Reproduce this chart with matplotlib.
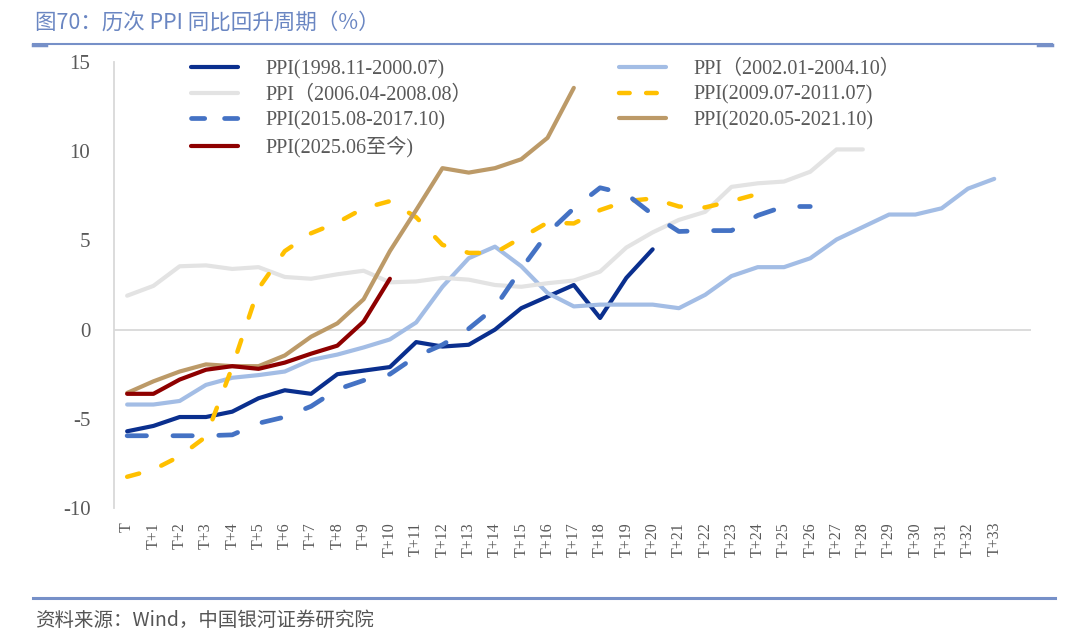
import numpy as np
import matplotlib.pyplot as plt
from matplotlib.lines import Line2D

plt.rcParams['axes.unicode_minus'] = False

# x categories (35 slots, last one has no label)
x_labels = ['T'] + [f'T+{i}' for i in range(1, 34)]

# PPI yoy (%) for each upturn cycle
ppi_1998 = [-5.7, -5.4, -4.9, -4.9, -4.6, -3.85, -3.4, -3.6, -2.5, -2.3, -2.1,
            -0.7, -0.95, -0.85, 0.0, 1.2, 1.85, 2.5, 0.65, 2.9, 4.5]
ppi_2002 = [-4.2, -4.2, -4.0, -3.1, -2.7, -2.55, -2.35, -1.7, -1.4, -1.0, -0.55,
            0.4, 2.4, 4.0, 4.65, 3.55, 2.05, 1.3, 1.4, 1.4, 1.4, 1.2, 1.95, 3.0,
            3.5, 3.5, 4.0, 5.05, 5.75, 6.45, 6.45, 6.8, 7.9, 8.45]
ppi_2006 = [1.9, 2.45, 3.55, 3.6, 3.4, 3.5, 2.95, 2.85, 3.1, 3.3, 2.65, 2.7, 2.9,
            2.8, 2.5, 2.4, 2.6, 2.75, 3.25, 4.6, 5.45, 6.15, 6.6, 8.0, 8.2, 8.3,
            8.85, 10.1, 10.1]
ppi_2009 = [-8.25, -7.85, -7.1, -6.0, -2.1, 2.3, 4.4, 5.4, 6.0, 6.8, 7.2, 6.3,
            4.75, 4.3, 4.3, 5.15, 6.0, 5.95, 6.7, 7.2, 7.35, 6.9, 6.85, 7.2, 7.6]
ppi_2015 = [-5.95, -5.95, -5.95, -5.95, -5.9, -5.25, -4.9, -4.3, -3.35, -2.85,
            -2.5, -1.5, -0.85, 0.05, 1.25, 3.4, 5.4, 6.8, 7.95, 7.6, 6.45, 5.5,
            5.55, 5.55, 6.4, 6.9, 6.9]
ppi_2020 = [-3.55, -2.9, -2.35, -1.95, -2.05, -2.05, -1.45, -0.4, 0.35, 1.7, 4.4,
            6.7, 9.05, 8.8, 9.05, 9.55, 10.75, 13.55]
ppi_2025 = [-3.6, -3.6, -2.8, -2.25, -2.05, -2.2, -1.85, -1.35, -0.9, 0.45, 2.85]

serif = ['Liberation Serif', 'Noto Sans CJK SC', 'DejaVu Sans']
cjk = ['Noto Sans CJK SC', 'DejaVu Sans']
grey_txt = '#595959'
frame_blue = '#7690C8'

fig = plt.figure(figsize=(10.8, 6.44), dpi=100)
ax = fig.add_axes([114 / 1080, 1 - 508 / 644, (1031 - 114) / 1080, (508 - 62) / 644])

def idx(s):
    return np.arange(len(s))

solid = dict(solid_capstyle='round', solid_joinstyle='round')
dashed = dict(dash_capstyle='round', dash_joinstyle='round')

l1, = ax.plot(idx(ppi_1998), ppi_1998, color='#0A2F8E', lw=3.0, **solid)
l2, = ax.plot(idx(ppi_2002), ppi_2002, color='#A3BDE5', lw=3.0, **solid)
l3, = ax.plot(idx(ppi_2006), ppi_2006, color='#E3E3E3', lw=3.0, **solid)
l4, = ax.plot(idx(ppi_2009), ppi_2009, color='#FFC000', lw=3.2,
              dashes=(2.8, 5.3), **dashed)
l5, = ax.plot(idx(ppi_2015), ppi_2015, color='#4472C4', lw=3.4,
              dashes=(4.1, 5.6), **dashed)
l6, = ax.plot(idx(ppi_2020), ppi_2020, color='#BC9A68', lw=3.0, **solid)
l7, = ax.plot(idx(ppi_2025), ppi_2025, color='#8E0000', lw=3.0, **solid)

# legend proxies for the dashed lines (shorter pattern, like the original)
h4 = Line2D([], [], color='#FFC000', lw=3.2, dashes=(2.4, 3.7), **dashed)
h5 = Line2D([], [], color='#4472C4', lw=3.4, dashes=(2.8, 4.2), **dashed)

ax.axhline(0, color='#D9D9D9', lw=1.3, zorder=0)
ax.set_xlim(-0.5, 34.4)
ax.set_ylim(-10, 15)
ax.set_yticks([-10, -5, 0, 5, 10, 15])
ax.set_xticks(range(len(x_labels)))
ax.set_xticklabels(x_labels, rotation=90, va='top', ha='center')
for sp in ['top', 'right', 'bottom']:
    ax.spines[sp].set_visible(False)
ax.spines['left'].set_color('#D9D9D9')
ax.spines['left'].set_linewidth(1.3)
ax.tick_params(axis='y', length=0, pad=17, labelsize=15, labelcolor=grey_txt)
ax.tick_params(axis='x', length=0, pad=10, labelsize=11.5, labelcolor=grey_txt)
for t in ax.get_xticklabels() + ax.get_yticklabels():
    t.set_family(serif)

# legend: two blocks placed like the original
leg_kw = dict(frameon=False, prop={'family': serif, 'size': 14.5}, labelcolor=grey_txt,
              handlelength=2.34, handletextpad=1.38, labelspacing=0.31,
              borderaxespad=0, borderpad=0, loc='upper left')
leg1 = ax.legend([l1, l3, h5, l7],
                 ['PPI(1998.11-2000.07)', 'PPI（2006.04-2008.08）',
                  'PPI(2015.08-2017.10)', 'PPI(2025.06至今)'],
                 bbox_to_anchor=(191 / 1080, 1 - 60 / 644),
                 bbox_transform=fig.transFigure, **leg_kw)
ax.add_artist(leg1)
ax.legend([l2, h4, l6],
          ['PPI（2002.01-2004.10）', 'PPI(2009.07-2011.07)', 'PPI(2020.05-2021.10)'],
          bbox_to_anchor=(619 / 1080, 1 - 60 / 644),
          bbox_transform=fig.transFigure, **leg_kw)

# title, frame lines and source
fig.text(35 / 1080, 1 - 23 / 644, '图70：历次 PPI 同比回升周期（%）', family=cjk,
         fontsize=15.5, color='#6A86C2', va='center', ha='left')
fig.add_artist(Line2D([33 / 1080, 1052 / 1080], [1 - 44 / 644] * 2,
                      color=frame_blue, lw=1.5, transform=fig.transFigure))
fig.add_artist(Line2D([33 / 1080, 46 / 1080], [1 - 44.5 / 644] * 2,
                      color=frame_blue, lw=2.5, transform=fig.transFigure))
fig.add_artist(Line2D([1038 / 1080, 1052 / 1080], [1 - 44.5 / 644] * 2,
                      color=frame_blue, lw=2.5, transform=fig.transFigure))
fig.add_artist(Line2D([33 / 1080, 1055 / 1080], [1 - 598 / 644] * 2,
                      color=frame_blue, lw=2.2, transform=fig.transFigure))
fig.text(35 / 1080, 1 - 620 / 644, '资料来源：Wind，中国银河证券研究院', family=cjk,
         fontsize=14, color='#555555', style='italic', va='center', ha='left')

fig.savefig('out.png', dpi=100, facecolor='white')
